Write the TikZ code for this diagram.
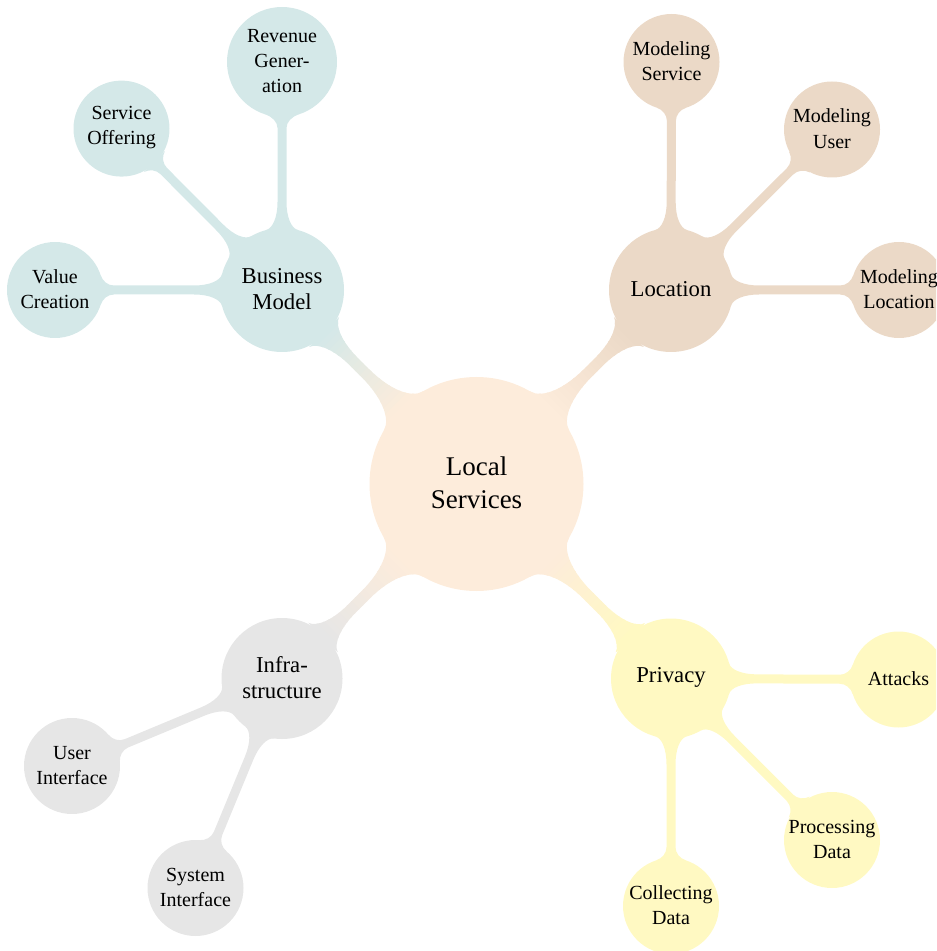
\documentclass[tikz,border=0pt]{standalone}
\usepackage{fontspec}
\setmainfont{Liberation Serif}
\usetikzlibrary{backgrounds}

\definecolor{rootc}{RGB}{253,236,219}
\definecolor{bmc}{RGB}{212,232,232}
\definecolor{locc}{RGB}{235,217,199}
\definecolor{infc}{RGB}{230,230,230}
\definecolor{prvc}{RGB}{255,249,194}

% centred label that does not enlarge its circle
\newcommand{\ctxt}[1]{\raisebox{-0.42em}{\makebox[0pt]{\smash{\parbox[c]{80pt}{\centering #1}}}}}

% half width of the connecting bars
\def\lbh{5}

% geometry of a bar with concave fillets joining two round concepts
% #1,#2: nodes; #3,#4: their radii;
% #5,#6: angle where the fillet leaves the first circle and where the straight bar starts;
% #7,#8: the same for the second circle
\newcommand\lbgeom[8]{%
  \def\lbFrom{#1}\def\lbRA{#3}\def\lbRB{#4}\def\lbLA{#6}\def\lbLB{#8}%
  \pgfpointdiff{\pgfpointanchor{#1}{center}}{\pgfpointanchor{#2}{center}}%
  \pgfgetlastxy{\lbdx}{\lbdy}%
  \pgfmathsetmacro\lbAng{atan2(\lbdy,\lbdx)}%
  \pgfmathsetmacro\lbD{veclen(\lbdx,\lbdy)/0.5}%
  \pgfmathsetmacro\lbTAx{#3*cos(#5)}\pgfmathsetmacro\lbTAy{#3*sin(#5)}%
  \pgfmathsetmacro\lbXA{\lbTAx+(\lbTAy-\lbh)*tan(#5)}%
  \pgfmathsetmacro\lbCAx{\lbTAx+0.6*(\lbXA-\lbTAx)}%
  \pgfmathsetmacro\lbCAy{\lbTAy+0.6*(\lbh-\lbTAy)}%
  \pgfmathsetmacro\lbDAx{#6-0.6*(#6-\lbXA)}%
  \pgfmathsetmacro\lbTBx{\lbD-#4*cos(#7)}\pgfmathsetmacro\lbTBy{#4*sin(#7)}%
  \pgfmathsetmacro\lbXB{#4*cos(#7)+(\lbTBy-\lbh)*tan(#7)}%
  \pgfmathsetmacro\lbCBx{\lbD-(#4*cos(#7)+0.6*(\lbXB-#4*cos(#7)))}%
  \pgfmathsetmacro\lbCBy{\lbTBy+0.6*(\lbh-\lbTBy)}%
  \pgfmathsetmacro\lbDBx{\lbD-(#8-0.6*(#8-\lbXB))}%
  \pgfmathsetmacro\lbEB{\lbD-#8}%
}
\def\lbpath{%
  (\lbTAx,\lbTAy) .. controls (\lbCAx,\lbCAy) and (\lbDAx,\lbh) .. (\lbLA,\lbh)
  -- (\lbEB,\lbh) .. controls (\lbDBx,\lbh) and (\lbCBx,\lbCBy) .. (\lbTBx,\lbTBy)
  -- (\lbTBx,-\lbTBy) .. controls (\lbCBx,-\lbCBy) and (\lbDBx,-\lbh) .. (\lbEB,-\lbh)
  -- (\lbLA,-\lbh) .. controls (\lbDAx,-\lbh) and (\lbCAx,-\lbCAy) .. (\lbTAx,-\lbTAy)
  -- cycle}

% one-coloured bar
\newcommand\solidbar[1]{%
  \fill[#1, shift={(\lbFrom.center)}, rotate=\lbAng] \lbpath;}

% bar whose colour runs from #1 (first circle) to #2 (second circle)
\newcommand\fadebar[2]{%
  \begin{scope}[shift={(\lbFrom.center)}, rotate=\lbAng]
    \clip \lbpath;
    \pgfmathsetmacro\lbstep{\lbD/48}%
    \pgfmathsetmacro\lbspan{\lbD-\lbRA-\lbRB}%
    \foreach \i in {0,...,47}{%
      \pgfmathsetmacro\lbxa{\i*\lbstep}%
      \pgfmathsetmacro\lbxb{(\i+1)*\lbstep+1}%
      \pgfmathsetmacro\lbfrac{((\i+0.5)*\lbstep-\lbRA)/\lbspan}%
      \pgfmathtruncatemacro\lbmix{100*max(0,min(1,\lbfrac))}%
      \fill[#2!\lbmix!#1] (\lbxa,-90) rectangle (\lbxb,90);
    }
  \end{scope}}

\tikzset{
  bubble/.style={circle, inner sep=0pt, outer sep=0pt, text=black},
  rootbubble/.style={bubble, minimum size=107pt, font=\fontsize{13.5}{16.5}\selectfont},
  mainbubble/.style={bubble, minimum size=62pt, font=\fontsize{11.35}{13}\selectfont},
  leafbubble/.style={bubble, minimum size=48pt, font=\fontsize{10}{12.6}\selectfont},
}

\begin{document}
\begin{tikzpicture}[x=0.5pt, y=0.5pt]
\useasboundingbox (0,0) rectangle (936,-951);
\clip (0,0) rectangle (936,-951);

% centre
\node[rootbubble, fill=rootc] (root) at (476.5,-484) {\ctxt{Local\\Services}};

% first ring
\node[mainbubble, fill=bmc]  (bm)  at (282,-290)   {\ctxt{Business\\Model}};
\node[mainbubble, fill=locc] (loc) at (671,-290)   {\ctxt{Location}};
\node[mainbubble, fill=infc, minimum size=60.5pt] (inf) at (282,-678.5) {\ctxt{Infra-\\structure}};
\node[mainbubble, fill=prvc, minimum size=60pt] (prv) at (671,-678.5) {\ctxt{Privacy}};

% business model leaves
\node[leafbubble, fill=bmc] (vc) at (55,-290)    {\ctxt{Value\\Creation}};
\node[leafbubble, fill=bmc] (so) at (121.5,-128.6) {\ctxt{Service\\Offering}};
\node[leafbubble, fill=bmc, minimum size=55pt] (rg) at (282,-62) {\ctxt{Revenue\\Gener-\\ation}};

% location leaves
\node[leafbubble, fill=locc] (ms) at (671.5,-62)  {\ctxt{Modeling\\Service}};
\node[leafbubble, fill=locc] (mu) at (832,-129.5) {\ctxt{Modeling\\User}};
\node[leafbubble, fill=locc] (ml) at (899,-290)   {\ctxt{Modeling\\Location}};

% infrastructure leaves
\node[leafbubble, fill=infc] (ui) at (72,-766)  {\ctxt{User\\Interface}};
\node[leafbubble, fill=infc] (si) at (195.5,-888) {\ctxt{System\\Interface}};

% privacy leaves
\node[leafbubble, fill=prvc] (at) at (898.5,-679.5) {\ctxt{Attacks}};
\node[leafbubble, fill=prvc] (pd) at (832,-840)     {\ctxt{Processing\\Data}};
\node[leafbubble, fill=prvc] (cd) at (671,-906)     {\ctxt{Collecting\\Data}};

\begin{scope}[on background layer]
% connectors from the centre, fading between the two colours
\def\lbh{5.5}
\lbgeom{root}{bm}{107}{62}{15}{157}{20}{100}   \fadebar{rootc}{bmc}
\lbgeom{root}{loc}{107}{62}{15}{157}{20}{100}  \fadebar{rootc}{locc}
\lbgeom{root}{inf}{107}{60.5}{15}{157}{20}{98} \fadebar{rootc}{infc}
\lbgeom{root}{prv}{107}{60}{15}{157}{20}{98}   \fadebar{rootc}{prvc}

% connectors to the leaves
\def\lbh{4.5}
\lbgeom{bm}{vc}{62}{48}{15}{88}{18}{59}    \solidbar{bmc}
\lbgeom{bm}{so}{62}{48}{15}{88}{18}{59}    \solidbar{bmc}
\lbgeom{bm}{rg}{62}{55}{15}{88}{18}{66}    \solidbar{bmc}
\lbgeom{loc}{ms}{62}{48}{15}{88}{18}{59}   \solidbar{locc}
\lbgeom{loc}{mu}{62}{48}{15}{88}{18}{59}   \solidbar{locc}
\lbgeom{loc}{ml}{62}{48}{15}{88}{18}{59}   \solidbar{locc}
\lbgeom{inf}{ui}{60.5}{48}{15}{86}{18}{59} \solidbar{infc}
\lbgeom{inf}{si}{60.5}{48}{15}{86}{18}{59} \solidbar{infc}
\lbgeom{prv}{at}{60}{48}{15}{86}{18}{59}   \solidbar{prvc}
\lbgeom{prv}{pd}{60}{48}{15}{86}{18}{59}   \solidbar{prvc}
\lbgeom{prv}{cd}{60}{48}{15}{86}{18}{59}   \solidbar{prvc}
\end{scope}
\end{tikzpicture}
\end{document}
